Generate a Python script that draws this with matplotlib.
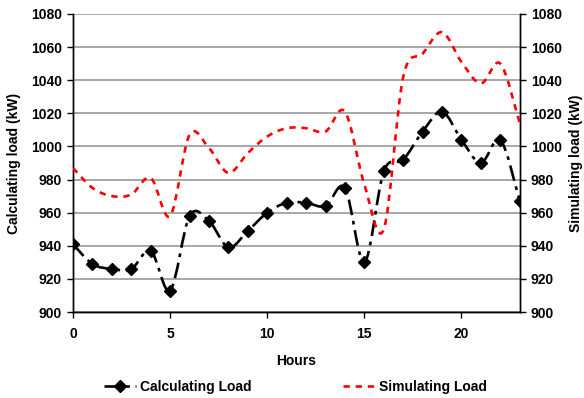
import matplotlib
matplotlib.use("Agg")
import matplotlib.pyplot as plt
from matplotlib.path import Path
from matplotlib.patches import PathPatch
from matplotlib.lines import Line2D
import numpy as np

plt.rcParams['font.family'] = ['Liberation Sans', 'DejaVu Sans']
plt.rcParams['font.weight'] = 'bold'
plt.rcParams['font.size'] = 10

hours = list(range(24))
calculating_load = [941, 929, 926, 926, 937, 913, 958, 955, 939, 949, 960, 966,
                    966, 964, 975, 930, 985, 992, 1009, 1021, 1004, 990, 1004, 967]
simulating_load = [987, 975, 970, 971, 981, 958, 1007, 999, 984, 996, 1006, 1011,
                   1011, 1009, 1021, 977, 950, 1042, 1056, 1069, 1051, 1038, 1050, 1014]
x_ticks = [0, 5, 10, 15, 20]
y_ticks = list(range(900, 1081, 20))


def smooth_path(x, y, t=1/6):
    """Excel-like smoothed line: cubic Bezier segments through the data points."""
    p = np.column_stack([x, y]).astype(float)
    n = len(p)
    verts = [p[0]]
    codes = [Path.MOVETO]
    for i in range(n - 1):
        p0 = p[i - 1] if i > 0 else p[i]
        p1, p2 = p[i], p[i + 1]
        p3 = p[i + 2] if i + 2 < n else p[i + 1]
        c1 = p1 + (p2 - p0) * t
        c2 = p2 - (p3 - p1) * t
        verts += [c1, c2, p2]
        codes += [Path.CURVE4] * 3
    return Path(verts, codes)


fig = plt.figure(figsize=(5.84, 3.98), dpi=100)
ax = fig.add_axes([0.125, 0.216, 0.765, 0.749])
ax2 = ax.twinx()

black_dash = (0, (6, 2.2, 1.4, 2.2))
red_dash = (0, (2.4, 2.2))
lw = 1.9

ax.add_patch(PathPatch(smooth_path(hours, calculating_load), fill=False, zorder=3,
                       capstyle='butt', linewidth=lw, linestyle=black_dash,
                       edgecolor='black'))
ax.plot(hours, calculating_load, linestyle='none', marker='D', markersize=6,
        color='black', zorder=4)
ax2.add_patch(PathPatch(smooth_path(hours, simulating_load), fill=False, zorder=3,
                        capstyle='butt', linewidth=lw, linestyle=red_dash,
                        edgecolor='#ff0000'))

for a in (ax, ax2):
    a.set_xlim(0, 23)
    a.set_ylim(900, 1080)
    a.set_yticks(y_ticks)
    a.spines['top'].set_visible(False)
    for s in a.spines.values():
        s.set_linewidth(1.0)

ax.set_xticks(x_ticks)
ax.yaxis.grid(True, color='#a0a0a0', linewidth=1.3)
ax.set_axisbelow(True)
ax.tick_params(axis='y', direction='out', length=4, width=1, pad=4, labelsize=10)
ax.tick_params(axis='x', direction='out', length=4, width=1, pad=7, labelsize=10)
ax2.tick_params(axis='y', direction='out', length=4, width=1, pad=4, labelsize=10)

ax.set_xlabel('Hours', fontsize=10, fontweight='bold', labelpad=9)
ax.set_ylabel('Calculating load (kW)', fontsize=10, fontweight='bold', labelpad=7)
ax2.set_ylabel('Simulating load (kW)', fontsize=10, fontweight='bold', labelpad=5)

handles = [
    Line2D([], [], marker='D', markersize=6, color='black', linewidth=lw,
           linestyle=black_dash),
    Line2D([], [], color='#ff0000', linewidth=lw, linestyle=red_dash),
]
fig.legend(handles, ['Calculating Load', 'Simulating Load'], loc='center',
           bbox_to_anchor=(0.506, 0.028), ncol=2, frameon=False,
           handlelength=2.3, handletextpad=0.3, columnspacing=6.6, fontsize=10)

fig.savefig('out.png', dpi=100)
